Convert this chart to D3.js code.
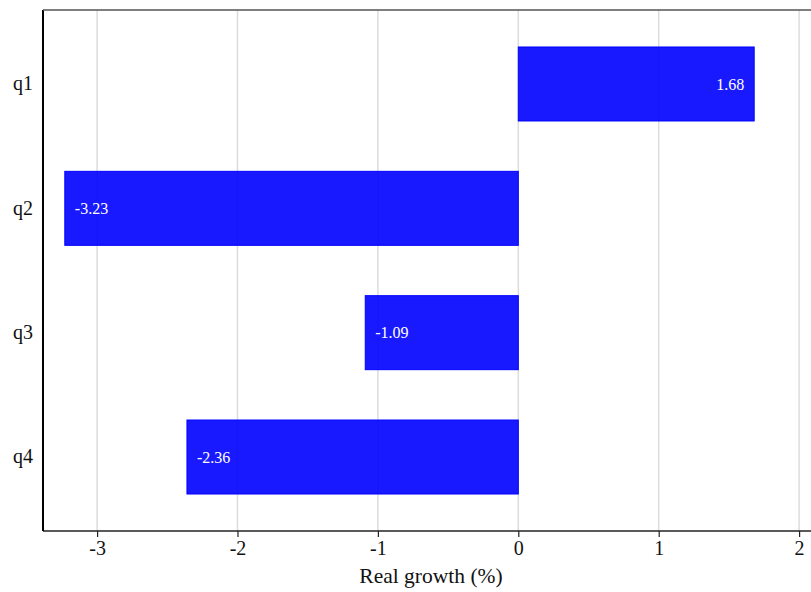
<!DOCTYPE html>
<html><head><meta charset="utf-8">
<script src="https://cdn.jsdelivr.net/npm/d3@7"></script>
<style>body{margin:0;background:#fff;} svg{display:block;}</style>
</head><body>
<script>
const categories = ["q1", "q2", "q3", "q4"];
const values = [1.68, -3.23, -1.09, -2.36];
const xTicks = [-3, -2, -1, 0, 1, 2];
const xLabel = "Real growth (%)";

const W = 811, H = 592;
const mLeft = 43, mTop = 10, mBottom = 531;
const svg = d3.select("body").append("svg").attr("width", W).attr("height", H);
const font = "'Liberation Serif', 'Times New Roman', serif";

const x = d3.scaleLinear().domain([0, 1]).range([518.3, 658.7]);
const y = d3.scaleBand().domain(categories).range([mTop, mBottom]).paddingInner(0.405).paddingOuter(0.2975);

// grid
svg.append("g").selectAll("line").data(xTicks).join("line")
  .attr("x1", d => x(d)).attr("x2", d => x(d))
  .attr("y1", mTop).attr("y2", mBottom)
  .attr("stroke", "#dcdcdc").attr("stroke-width", 1.5);

// bars
svg.append("g").selectAll("rect").data(values).join("rect")
  .attr("x", d => Math.min(x(0), x(d)))
  .attr("width", d => Math.abs(x(d) - x(0)))
  .attr("y", (d, i) => y(categories[i]))
  .attr("height", y.bandwidth())
  .attr("fill", "#0000ff").attr("fill-opacity", 0.9)
  .attr("stroke", "#0000ff").attr("stroke-width", 1);

// bar labels
svg.append("g").selectAll("text").data(values).join("text")
  .attr("x", d => d >= 0 ? x(d) - 10 : x(d) + 10)
  .attr("y", (d, i) => y(categories[i]) + y.bandwidth() / 2)
  .attr("dy", "0.35em")
  .attr("text-anchor", d => d >= 0 ? "end" : "start")
  .attr("fill", "#ffffff")
  .style("font-family", font).style("font-size", "16px")
  .text(d => d.toFixed(2));

// x axis
const xAxis = svg.append("g").attr("transform", `translate(0,${mBottom})`)
  .call(d3.axisBottom(x).tickValues(xTicks).tickFormat(d3.format("d")).tickSize(6).tickPadding(4));
xAxis.select(".domain").attr("d", `M${mLeft},0H${W}`).attr("stroke", "#222").attr("stroke-width", 1.5);
xAxis.selectAll(".tick line").attr("stroke", "#222").attr("stroke-width", 1.2);
xAxis.selectAll(".tick text").style("font-family", font).style("font-size", "20px").attr("fill", "#111")
  .text(d => d < 0 ? "-" + Math.abs(d) : d);

// y axis
const yAxis = svg.append("g").attr("transform", `translate(${mLeft},0)`)
  .call(d3.axisLeft(y).tickSize(0).tickPadding(10));
yAxis.select(".domain").attr("d", `M0,${mTop}V${mBottom}`).attr("stroke", "#000").attr("stroke-width", 2);
yAxis.selectAll(".tick text").style("font-family", font).style("font-size", "20px").attr("fill", "#111");

// top frame line
svg.append("line").attr("x1", mLeft).attr("x2", W).attr("y1", mTop).attr("y2", mTop)
  .attr("stroke", "#555").attr("stroke-width", 1.5);

// x label
svg.append("text").attr("x", 431).attr("y", 583).attr("text-anchor", "middle")
  .style("font-family", font).style("font-size", "21.5px").attr("fill", "#111")
  .text(xLabel);
</script>
</body></html>
